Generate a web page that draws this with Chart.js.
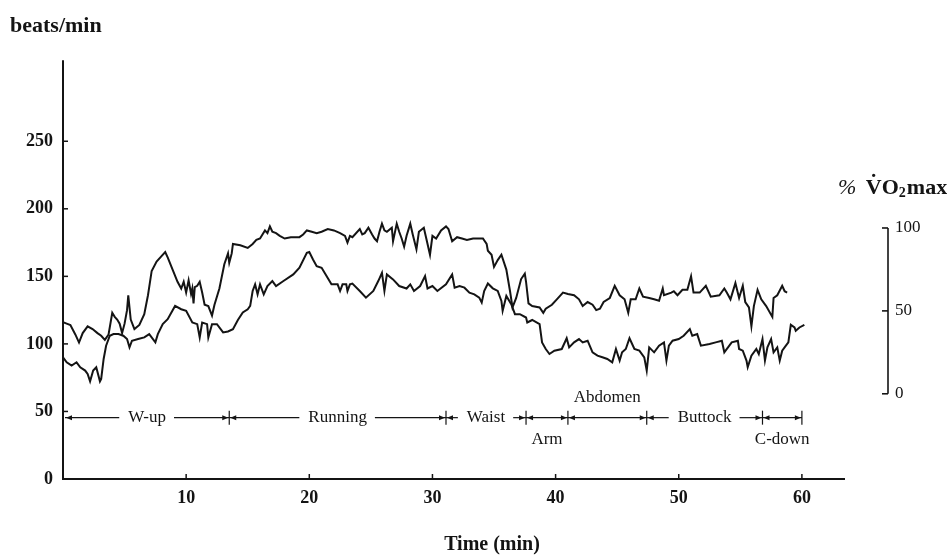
<!DOCTYPE html>
<html><head><meta charset="utf-8">
<script src="https://cdn.jsdelivr.net/npm/chart.js@4"></script>
<style>html,body{margin:0;padding:0;background:#fff}canvas{display:block}</style>
</head><body>
<canvas id="c" width="947" height="555"></canvas>
<script>
// ---------- data ----------
const xTickValues = [10, 20, 30, 40, 50, 60];
const yTickValues = [0, 50, 100, 150, 200, 250];
const y2TickValues = [0, 50, 100];

const phaseBounds = [0, 13.5, 31.1, 37.6, 41.0, 47.4, 56.8, 60];
const phaseNames = ['W-up', 'Running', 'Waist', 'Arm', 'Abdomen', 'Buttock', 'C-down'];

// heart rate (beats/min)
const timesHR = [0.0,0.3,0.6,1.0,1.3,1.6,2.0,2.4,2.8,3.1,3.4,3.7,4.0,4.2,4.4,4.6,4.8,5.0,5.2,5.3,5.5,5.8,6.2,6.6,6.9,7.2,7.6,8.0,8.3,8.5,8.9,9.3,9.6,9.8,10.0,10.2,10.4,10.5,10.6,10.7,10.9,11.1,11.3,11.5,11.8,12.1,12.3,12.7,13.1,13.4,13.5,13.7,13.8,14.4,15.0,15.4,15.7,16.0,16.4,16.6,16.8,17.0,17.3,17.6,18.0,18.5,19.2,19.5,19.8,20.2,20.6,21.0,21.5,22.0,22.5,22.9,23.1,23.3,23.5,24.1,24.3,24.5,24.8,25.1,25.3,25.5,25.7,25.9,26.1,26.3,26.7,26.8,27.1,27.3,27.5,27.7,27.9,28.2,28.4,28.7,28.9,29.3,29.5,29.8,30.0,30.3,30.7,31.1,31.3,31.6,32.0,32.4,32.8,33.3,33.8,34.1,34.4,34.5,34.8,35.0,35.3,35.6,36.0,36.3,36.5,36.8,37.2,37.5,37.6,37.8,38.1,38.7,39.0,39.2,39.7,40.1,40.6,41.0,41.5,41.9,42.2,42.6,43.0,43.3,43.6,43.9,44.4,44.8,45.2,45.6,45.9,46.1,46.5,46.8,47.1,47.6,48.0,48.4,48.7,48.8,49.4,49.6,49.9,50.3,50.7,51.0,51.2,51.7,52.2,52.6,53.3,53.7,53.9,54.2,54.6,54.9,55.2,55.4,55.7,55.9,56.1,56.4,56.7,57.1,57.6,57.7,58.0,58.4,58.6,58.8];
const heartRate = [116,115,114,107,101,108,113,111,108,106,103,107,123,120,118,115,108,115,125,136,118,111,114,122,136,154,161,165,168,164,155,146,141,146,138,147,137,141,130,142,143,146,138,129,128,121,129,141,159,167,160,167,174,173,171,174,177,178,184,182,187,183,182,180,178,179,179,181,184,183,182,183,185,184,182,180,175,180,179,185,181,182,186,181,178,176,183,189,184,183,186,176,189,183,178,172,180,189,181,170,183,186,178,166,180,178,184,187,185,176,179,178,177,178,178,178,174,169,166,157,162,166,155,139,127,134,148,152,146,130,128,127,123,126,129,133,138,137,136,133,128,131,129,125,126,131,134,143,136,133,123,133,133,141,135,134,133,132,141,136,138,139,136,140,140,150,138,138,143,135,136,141,138,133,145,134,143,131,127,113,128,140,133,128,120,134,136,143,139,138];

// oxygen uptake (% VO2max)
const timesVO2 = [0.0,0.3,0.7,1.1,1.4,1.8,2.0,2.2,2.45,2.7,3.0,3.1,3.3,3.5,3.8,4.1,4.5,4.9,5.2,5.4,5.6,6.1,6.6,7.0,7.5,7.7,8.1,8.5,9.1,9.6,10.0,10.5,10.9,11.1,11.3,11.7,11.8,12.1,12.5,13.0,13.4,13.8,14.2,14.6,15.0,15.2,15.4,15.6,15.8,16.0,16.3,16.6,17.0,17.3,17.9,18.7,19.2,19.8,20.0,20.3,20.6,21.0,21.4,21.8,22.3,22.5,22.7,23.0,23.1,23.3,23.5,24.1,24.6,25.2,25.6,25.9,26.1,26.3,26.8,27.3,27.9,28.2,28.5,29.0,29.4,29.6,30.0,30.4,31.1,31.6,31.8,32.2,32.6,33.0,33.4,33.8,34.0,34.2,34.5,34.9,35.3,35.6,35.7,36.0,36.4,36.7,37.1,37.6,37.7,38.1,38.7,38.9,39.2,39.5,39.9,40.5,40.9,41.1,41.5,41.9,42.2,42.6,43.0,43.4,43.8,44.2,44.6,44.9,45.2,45.4,45.7,46.0,46.4,46.8,47.2,47.4,47.6,48.0,48.4,48.8,49.0,49.2,49.5,50.0,50.4,50.9,51.1,51.5,51.8,52.5,53.0,53.5,53.7,54.3,54.8,54.9,55.2,55.5,55.6,55.9,56.3,56.5,56.8,57.0,57.2,57.5,57.7,58.0,58.2,58.4,58.7,58.9,59.1,59.4,59.5,59.8,60.2];
const vo2Percent = [22,19,17,19,16,14,12,7.5,14,16,7.5,9,21,29,35,36,36,35,33,28,32,33,34,36,31,36,42,45,53,51,50,43,42,34,43,42,34,42,42,37,37.6,39,44.5,49,51,53,62,66,60,66,60,65,68,65,68,72,76,85,85.5,81,77,76,71,66,66,62,66,66,62,66,66.5,62,58,62,68,73,62,72,69,65,63.5,66,62,65,71,63.5,65,62,66,72,64,65,64,61,60,58,55,62,66.5,63.6,62,56,50,59,54,48,48,46,43,44.5,42,31,27,24,26,27,33.5,28,31,33,31,32,25,23,22,21,19,27,20,25,27,33.5,27,26,22,14,28,25,29,31,20,29,32,33,35,39,35,36,29,30,31,32,25,31,32,27,26,20,16,23,27,24,33,20,28,33,25,28,20,26,29,31,41.6,40,38,40,41.6];

// ---------- style ----------
const INK = '#141414';
const SERIF = "'Liberation Serif', 'Times New Roman', serif";
const PHASE_LEVEL = 45.4;               // beats/min level of the phase bar
const phaseLabelPlacement = { 'Arm': 'below', 'Abdomen': 'above', 'C-down': 'below' };

const decoPlugin = {
  id: 'deco',
  afterDraw(chart) {
    const { ctx, chartArea: a, scales } = chart;
    const x = scales.x, y = scales.y, y2 = scales.y2;
    ctx.save();
    ctx.strokeStyle = INK; ctx.fillStyle = INK;
    // main axes
    ctx.lineWidth = 2;
    ctx.beginPath();
    ctx.moveTo(a.left, a.top); ctx.lineTo(a.left, a.bottom); ctx.lineTo(a.right, a.bottom);
    ctx.stroke();
    ctx.lineWidth = 1.5;
    y.ticks.forEach(t => {
      if (t.value === 0) return;
      const py = y.getPixelForValue(t.value);
      ctx.beginPath(); ctx.moveTo(a.left, py); ctx.lineTo(a.left + 5, py); ctx.stroke();
    });
    x.ticks.forEach(t => {
      const px = x.getPixelForValue(t.value);
      ctx.beginPath(); ctx.moveTo(px, a.bottom); ctx.lineTo(px, a.bottom - 5); ctx.stroke();
    });
    // right (%VO2max) axis
    const rx = a.right + 43;
    const rTop = y2.getPixelForValue(100), rBot = y2.getPixelForValue(0);
    ctx.lineWidth = 1.6;
    ctx.beginPath(); ctx.moveTo(rx, rTop); ctx.lineTo(rx, rBot); ctx.stroke();
    y2.ticks.forEach(t => {
      const py = y2.getPixelForValue(t.value);
      ctx.beginPath(); ctx.moveTo(rx - 6, py); ctx.lineTo(rx, py); ctx.stroke();
    });

    // titles
    ctx.textBaseline = 'alphabetic';
    ctx.textAlign = 'left';
    ctx.font = 'bold 22px ' + SERIF;
    ctx.fillText('beats/min', 10, 32);

    ctx.textAlign = 'center';
    ctx.font = 'bold 20px ' + SERIF;
    ctx.fillText('Time (min)', 492, 550);

    // % VO2max title
    ctx.textAlign = 'left';
    let tx = 838; const tb = 194;
    ctx.font = 'italic 22px ' + SERIF;
    ctx.fillText('%', tx, tb); tx += ctx.measureText('% ').width + 4;
    ctx.font = 'bold 22px ' + SERIF;
    const vw = ctx.measureText('V').width;
    ctx.fillText('V', tx, tb);
    ctx.textAlign = 'center';
    ctx.fillText('\u02D9', tx + vw / 2, tb - 5);
    ctx.textAlign = 'left';
    tx += vw;
    ctx.fillText('O', tx, tb); tx += ctx.measureText('O').width;
    ctx.font = 'bold 14px ' + SERIF;
    ctx.fillText('2', tx, tb + 3); tx += ctx.measureText('2').width + 1;
    ctx.font = 'bold 22px ' + SERIF;
    ctx.fillText('max', tx, tb);

    // phase bar
    const py = y.getPixelForValue(PHASE_LEVEL);
    ctx.font = '17px ' + SERIF;
    ctx.textBaseline = 'middle';
    ctx.textAlign = 'center';
    ctx.lineWidth = 1.2;
    const arrow = (tipX, dir) => {
      ctx.beginPath();
      ctx.moveTo(tipX, py);
      ctx.lineTo(tipX - dir * 6, py - 2.5);
      ctx.lineTo(tipX - dir * 6, py + 2.5);
      ctx.closePath(); ctx.fill();
    };
    const seg = (x0, x1) => { ctx.beginPath(); ctx.moveTo(x0, py); ctx.lineTo(x1, py); ctx.stroke(); };
    for (let i = 0; i < phaseNames.length; i++) {
      const x0 = x.getPixelForValue(phaseBounds[i]) + (i === 0 ? 2 : 0);
      const x1 = x.getPixelForValue(phaseBounds[i + 1]);
      const mid = (x0 + x1) / 2;
      const name = phaseNames[i];
      const place = phaseLabelPlacement[name];
      if (!place) {
        const w = ctx.measureText(name).width;
        seg(x0, mid - w / 2 - 9);
        seg(mid + w / 2 + 8, x1);
        ctx.fillText(name, mid, py);
      } else {
        seg(x0, x1);
        ctx.fillText(name, mid, place === 'above' ? py - 20 : py + 22);
      }
      arrow(x0 + 1, -1);
      arrow(x1 - 1, 1);
      ctx.beginPath(); ctx.moveTo(x1, py - 7); ctx.lineTo(x1, py + 7); ctx.stroke();
    }
    ctx.restore();
  }
};

const tickFont = { family: SERIF, size: 18, weight: 'bold' };

new Chart(document.getElementById('c'), {
  type: 'line',
  data: {
    datasets: [
      {
        label: 'Heart rate',
        data: timesHR.map((t, i) => ({ x: t, y: heartRate[i] })),
        yAxisID: 'y',
        borderColor: INK, borderWidth: 2, pointRadius: 0, tension: 0, fill: false
      },
      {
        label: '% VO2max',
        data: timesVO2.map((t, i) => ({ x: t, y: vo2Percent[i] })),
        yAxisID: 'y2',
        borderColor: INK, borderWidth: 2, pointRadius: 0, tension: 0, fill: false
      }
    ]
  },
  options: {
    responsive: false,
    animation: false,
    devicePixelRatio: 1,
    layout: { padding: { top: 42, left: 0, right: 0, bottom: 0 } },
    plugins: { legend: { display: false }, tooltip: { enabled: false } },
    scales: {
      x: {
        type: 'linear', min: 0, max: 63.5,
        afterBuildTicks: s => { s.ticks = xTickValues.map(v => ({ value: v })); },
        afterFit: s => { s.height = 76; },
        grid: { display: false, drawTicks: false },
        border: { display: false },
        ticks: { font: tickFont, color: INK, padding: 9, maxRotation: 0, autoSkip: false }
      },
      y: {
        type: 'linear', min: 0, max: 310, position: 'left',
        afterBuildTicks: s => { s.ticks = yTickValues.map(v => ({ value: v })); },
        afterFit: s => { s.width = 63; },
        grid: { display: false, drawTicks: false },
        border: { display: false },
        ticks: { font: tickFont, color: INK, padding: 10, autoSkip: false }
      },
      y2: {
        type: 'linear', min: -51.4, max: 201.2, position: 'right',
        afterBuildTicks: s => { s.ticks = y2TickValues.map(v => ({ value: v })); },
        afterFit: s => { s.width = 102; },
        grid: { display: false, drawTicks: false },
        border: { display: false },
        ticks: { font: { family: SERIF, size: 17 }, color: INK, padding: 50, autoSkip: false }
      }
    }
  },
  plugins: [decoPlugin]
});
</script>
</body></html>
